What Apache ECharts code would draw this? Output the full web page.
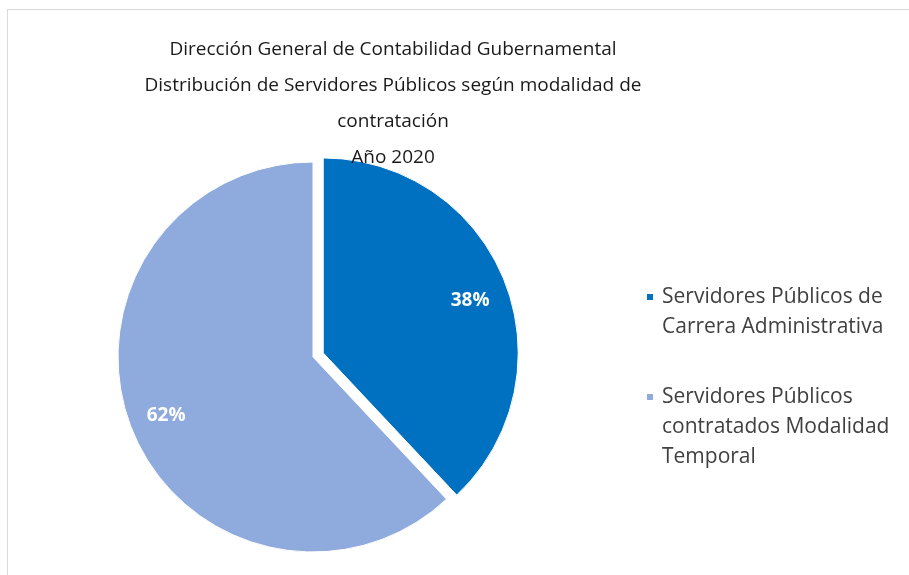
<!DOCTYPE html>
<html>
<head>
<meta charset="utf-8">
<title>Servidores Públicos 2020</title>
<script src="https://cdn.jsdelivr.net/npm/echarts@6/dist/echarts.min.js"></script>
<style>
  html, body { margin: 0; padding: 0; background: #fff; overflow: hidden; }
  #frame { position: absolute; left: 7px; top: 9px; width: 1000px; height: 1000px; border: 1px solid #d9d9d9; }
  #main { position: absolute; left: 0; top: 0; width: 909px; height: 575px; }
</style>
</head>
<body>
<div id="frame"></div>
<div id="main"></div>
<script>
const titleLines = [
  'Dirección General de Contabilidad Gubernamental',
  'Distribución de Servidores Públicos según modalidad de',
  'contratación',
  'Año 2020'
];
const categories = [
  'Servidores Públicos de\nCarrera Administrativa',
  'Servidores Públicos\ncontratados Modalidad\nTemporal'
];
const values = [38, 62];
const colors = ['#0070c0', '#8faadc'];

const font = '"Open Sans", "Noto Sans", sans-serif';

const chart = echarts.init(document.getElementById('main'));

const option = {
  animation: false,
  color: colors,
  title: {
    text: titleLines.join('\n'),
    left: 388,
    top: 27,
    textAlign: 'center',
    textStyle: {
      fontFamily: font,
      fontWeight: 'normal',
      fontSize: 19,
      lineHeight: 36,
      color: '#1a1a1a'
    }
  },
  legend: {
    orient: 'vertical',
    left: 645,
    top: 252,
    padding: 0,
    itemWidth: 8,
    itemHeight: 8,
    itemGap: -20,
    icon: 'rect',
    data: categories,
    // the icon sits at the middle of the text block; blank lines on top
    // move the first text line onto the icon
    formatter: (name) => '\n'.repeat(name.split('\n').length - 1) + name,
    textStyle: {
      fontFamily: font,
      fontSize: 21,
      lineHeight: 30,
      color: '#404040',
      padding: [0, 0, 0, 3]
    }
  },
  series: [
    {
      type: 'pie',
      center: [313, 357],
      radius: 195,
      startAngle: 90,
      clockwise: true,
      selectedMode: 'single',
      selectedOffset: 11,
      silent: true,
      itemStyle: { borderColor: '#fff', borderWidth: 1 },
      label: { show: false },
      labelLine: { show: false },
      select: { itemStyle: { borderColor: '#fff', borderWidth: 1 } },
      data: categories.map((name, i) => ({
        name: name,
        value: values[i],
        selected: i === 0,
        itemStyle: { color: colors[i] }
      }))
    },
    {
      // transparent ring used only to place the percentage labels further out
      type: 'pie',
      center: [313, 357],
      radius: [115, 195],
      startAngle: 90,
      clockwise: true,
      selectedMode: 'single',
      selectedOffset: 11,
      silent: true,
      itemStyle: { color: 'rgba(0,0,0,0)' },
      select: { itemStyle: { color: 'rgba(0,0,0,0)' } },
      label: {
        show: true,
        position: 'inside',
        formatter: '{d}%',
        color: '#fff',
        fontFamily: font,
        fontWeight: 'bold',
        fontSize: 19
      },
      labelLine: { show: false },
      // Excel sits the 38% label a bit lower than the slice middle
      labelLayout: (params) => (params.dataIndex === 0 ? { dy: 6 } : {}),
      data: categories.map((name, i) => ({
        name: name,
        value: values[i],
        selected: i === 0
      }))
    }
  ]
};

chart.setOption(option);
</script>
</body>
</html>
